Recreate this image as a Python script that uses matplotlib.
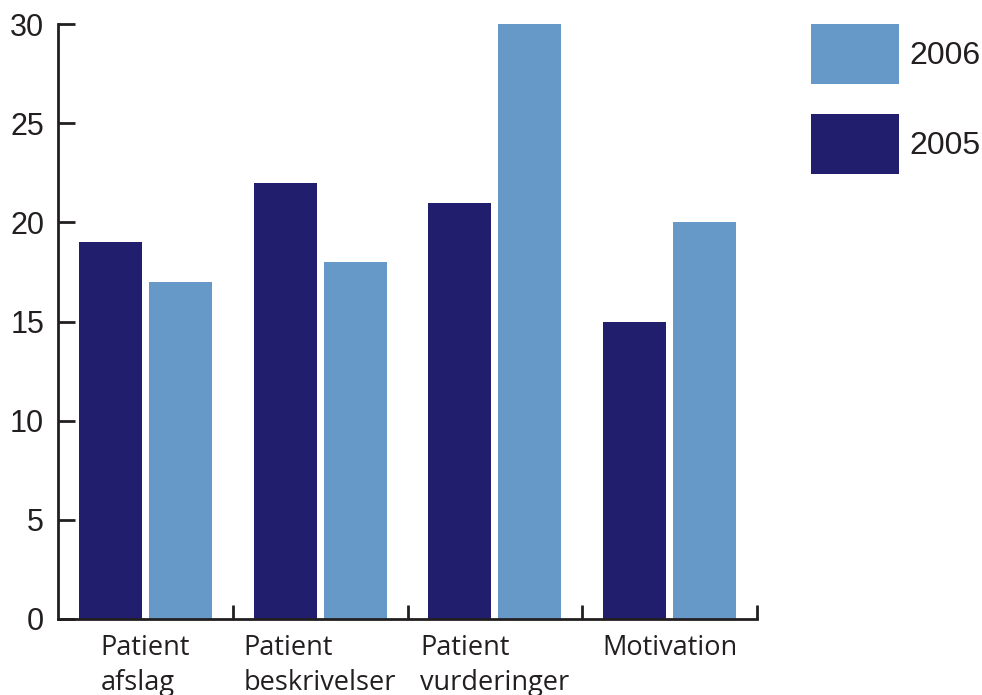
import matplotlib
matplotlib.use("Agg")
import matplotlib.pyplot as plt
import numpy as np
from matplotlib.ticker import FixedLocator


categories = ["Patient\nafslag", "Patient\nbeskrivelser", "Patient\nvurderinger", "Motivation"]
values_2005 = [19, 22, 21, 15]
values_2006 = [17, 18, 30, 20]

dark = "#221E6E"
light = "#6699C8"
ink = "#231F20"

fig = plt.figure(figsize=(9.82, 6.95), dpi=100)
ax = fig.add_axes([58 / 982, 1 - 619 / 695, 699 / 982, 595 / 695])

x = np.arange(len(categories))
w = 0.36
b05 = ax.bar(x - 0.2, values_2005, width=w, color=dark, label="2005")
b06 = ax.bar(x + 0.2, values_2006, width=w, color=light, label="2006")

ax.set_xlim(-0.5, len(categories) - 0.5)
ax.set_ylim(0, 30)

for side in ("top", "right"):
    ax.spines[side].set_visible(False)
for side in ("left", "bottom"):
    ax.spines[side].set_color(ink)
    ax.spines[side].set_linewidth(2.0)

# y ticks point into the plot
ax.set_yticks(np.arange(0, 31, 5))
ax.tick_params(axis="y", direction="in", length=12, width=2.0, color=ink,
               pad=10, labelsize=22, labelcolor=ink)
for lab in ax.get_yticklabels():
    lab.set_family("Liberation Sans")

# category labels at the centres, separator ticks between groups
ax.set_xticks(x)
ax.set_xticklabels(categories)
ax.tick_params(axis="x", which="major", length=0, pad=11, labelsize=19.5, labelcolor=ink)
for lab in ax.get_xticklabels():
    lab.set_family("Open Sans")
    lab.set_multialignment("left")
    lab.set_linespacing(1.3)
ax.xaxis.set_minor_locator(FixedLocator(list(x + 0.5)))
ax.tick_params(axis="x", which="minor", direction="in", length=10, width=2.0, color=ink)

fig.legend(handles=[b06, b05], labels=["2006", "2005"],
           loc="upper left", bbox_to_anchor=(811 / 982, 1 - 24 / 695),
           frameon=False, borderpad=0, borderaxespad=0,
           prop={"family": "Liberation Sans", "size": 23},
           handlelength=2.755, handleheight=2.51, labelspacing=0.94,
           handletextpad=0.31, labelcolor=ink)

fig.savefig("out.png", dpi=100)
